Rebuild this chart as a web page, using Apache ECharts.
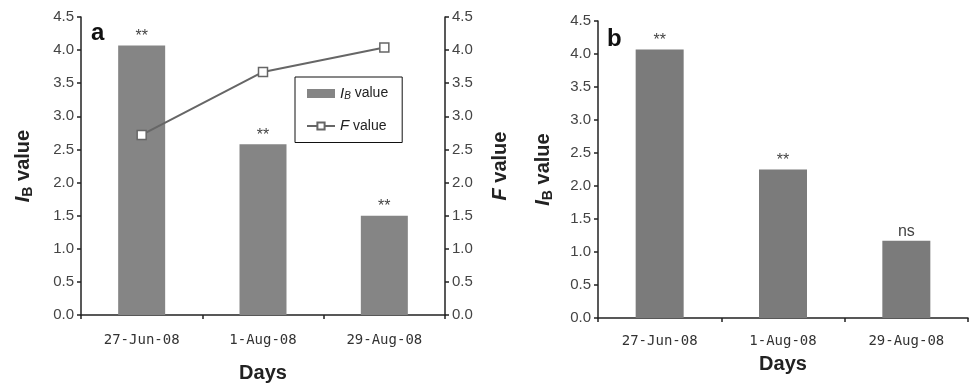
<!DOCTYPE html>
<html>
<head>
<meta charset="utf-8">
<script src="https://cdn.jsdelivr.net/npm/echarts@6/dist/echarts.min.js"></script>
<style>
html, body { margin: 0; padding: 0; background: #fff; }
#chart { width: 971px; height: 383px; }
</style>
</head>
<body>
<div id="chart"></div>
<script>
// data
var days = ['27-Jun-08', '1-Aug-08', '29-Aug-08'];
var ibA = [4.07, 2.58, 1.5];
var fA = [2.72, 3.67, 4.04];
var sigA = ['**', '**', '**'];
var ibB = [4.07, 2.25, 1.17];
var sigB = ['**', '**', 'ns'];

var chart = echarts.init(document.getElementById('chart'));
var font = 'Liberation Sans';
var axisLineStyle = { color: '#222', width: 1.5 };

function valueAxis(grid, pos, nameTxt, nameGap) {
    return {
        type: 'value',
        gridIndex: grid,
        position: pos,
        min: 0, max: 4.5, interval: 0.5,
        axisLine: { show: true, lineStyle: axisLineStyle },
        axisTick: { show: true, length: 4, lineStyle: axisLineStyle },
        splitLine: { show: false },
        axisLabel: {
            fontFamily: font, fontSize: 15, color: '#444', margin: 7,
            formatter: function (v) { return v.toFixed(1); }
        },
        name: nameTxt,
        nameLocation: 'middle',
        nameRotate: 90,
        nameGap: nameGap,
        nameTextStyle: {
            fontFamily: font, fontSize: 20, fontWeight: 'bold', color: '#222',
            rich: {
                i: { fontFamily: font, fontSize: 20, fontWeight: 'bold', fontStyle: 'italic', color: '#222' },
                s: { fontFamily: font, fontSize: 14, fontWeight: 'bold', color: '#222', verticalAlign: 'bottom', padding: [9, 0, 0, 0] },
                t: { fontFamily: font, fontSize: 20, fontWeight: 'bold', color: '#222' }
            }
        }
    };
}

function catAxis(grid, margin, nameGap) {
    return {
        type: 'category',
        gridIndex: grid,
        data: days,
        axisLine: { lineStyle: axisLineStyle },
        axisTick: { show: true, length: 4, lineStyle: axisLineStyle },
        axisLabel: { fontFamily: 'DejaVu Sans Mono', fontSize: 14, color: '#333', margin: margin },
        name: 'Days',
        nameLocation: 'middle',
        nameGap: nameGap,
        nameTextStyle: { fontFamily: font, fontSize: 20, fontWeight: 'bold', color: '#222' }
    };
}

function sigLabel(arr) {
    return {
        show: true, position: 'top', distance: 1,
        fontFamily: font, fontSize: 16, color: '#444',
        formatter: function (p) { return arr[p.dataIndex]; }
    };
}

var option = {
    animation: false,
    backgroundColor: '#fff',
    grid: [
        { left: 81, right: 526, top: 17, bottom: 68, outerBoundsMode: 'none' },
        { left: 598, right: 3, top: 21, bottom: 65, outerBoundsMode: 'none' }
    ],
    xAxis: [catAxis(0, 18, 48), catAxis(1, 16, 36)],
    yAxis: [
        valueAxis(0, 'left', '{i|I}{s|B}{t| value}', 46),
        valueAxis(0, 'right', '{i|F}{t| value}', 45),
        valueAxis(1, 'left', '{i|I}{s|B}{t| value}', 43)
    ],
    legend: {
        left: 295, top: 77,
        orient: 'vertical',
        borderColor: '#111', borderWidth: 1,
        padding: [9, 14, 9, 11],
        itemGap: 17,
        itemWidth: 28, itemHeight: 9,
        textStyle: {
            fontFamily: font, fontSize: 14, color: '#222',
            rich: {
                i: { fontFamily: font, fontSize: 15, fontStyle: 'italic', color: '#222' },
                s: { fontFamily: font, fontSize: 10, fontStyle: 'italic', color: '#222', verticalAlign: 'bottom', padding: [6, 0, 0, 0] },
                t: { fontFamily: font, fontSize: 14, color: '#222' }
            }
        },
        formatter: function (n) {
            return n === 'IB' ? '{i|I}{s|B}{t| value}' : '{i|F}{t| value}';
        },
        data: [{ name: 'IB', icon: 'rect' }, { name: 'F' }]
    },
    graphic: [
        { type: 'text', left: 91, top: 21, style: { text: 'a', font: 'bold 24px "Liberation Sans"', fill: '#111' } },
        { type: 'text', left: 607, top: 27, style: { text: 'b', font: 'bold 24px "Liberation Sans"', fill: '#111' } }
    ],
    series: [
        {
            name: 'IB', type: 'bar', xAxisIndex: 0, yAxisIndex: 0,
            data: ibA, barWidth: 47,
            itemStyle: { color: '#858585' },
            label: sigLabel(sigA)
        },
        {
            name: 'F', type: 'line', xAxisIndex: 0, yAxisIndex: 1,
            data: fA,
            symbol: 'rect', symbolSize: 9,
            lineStyle: { color: '#666', width: 2 },
            itemStyle: { color: '#fff', borderColor: '#666', borderWidth: 1.5 },
            z: 5
        },
        {
            name: 'IBb', type: 'bar', xAxisIndex: 1, yAxisIndex: 2,
            data: ibB, barWidth: 48,
            itemStyle: { color: '#7b7b7b' },
            label: sigLabel(sigB)
        }
    ]
};
chart.setOption(option);
</script>
</body>
</html>
